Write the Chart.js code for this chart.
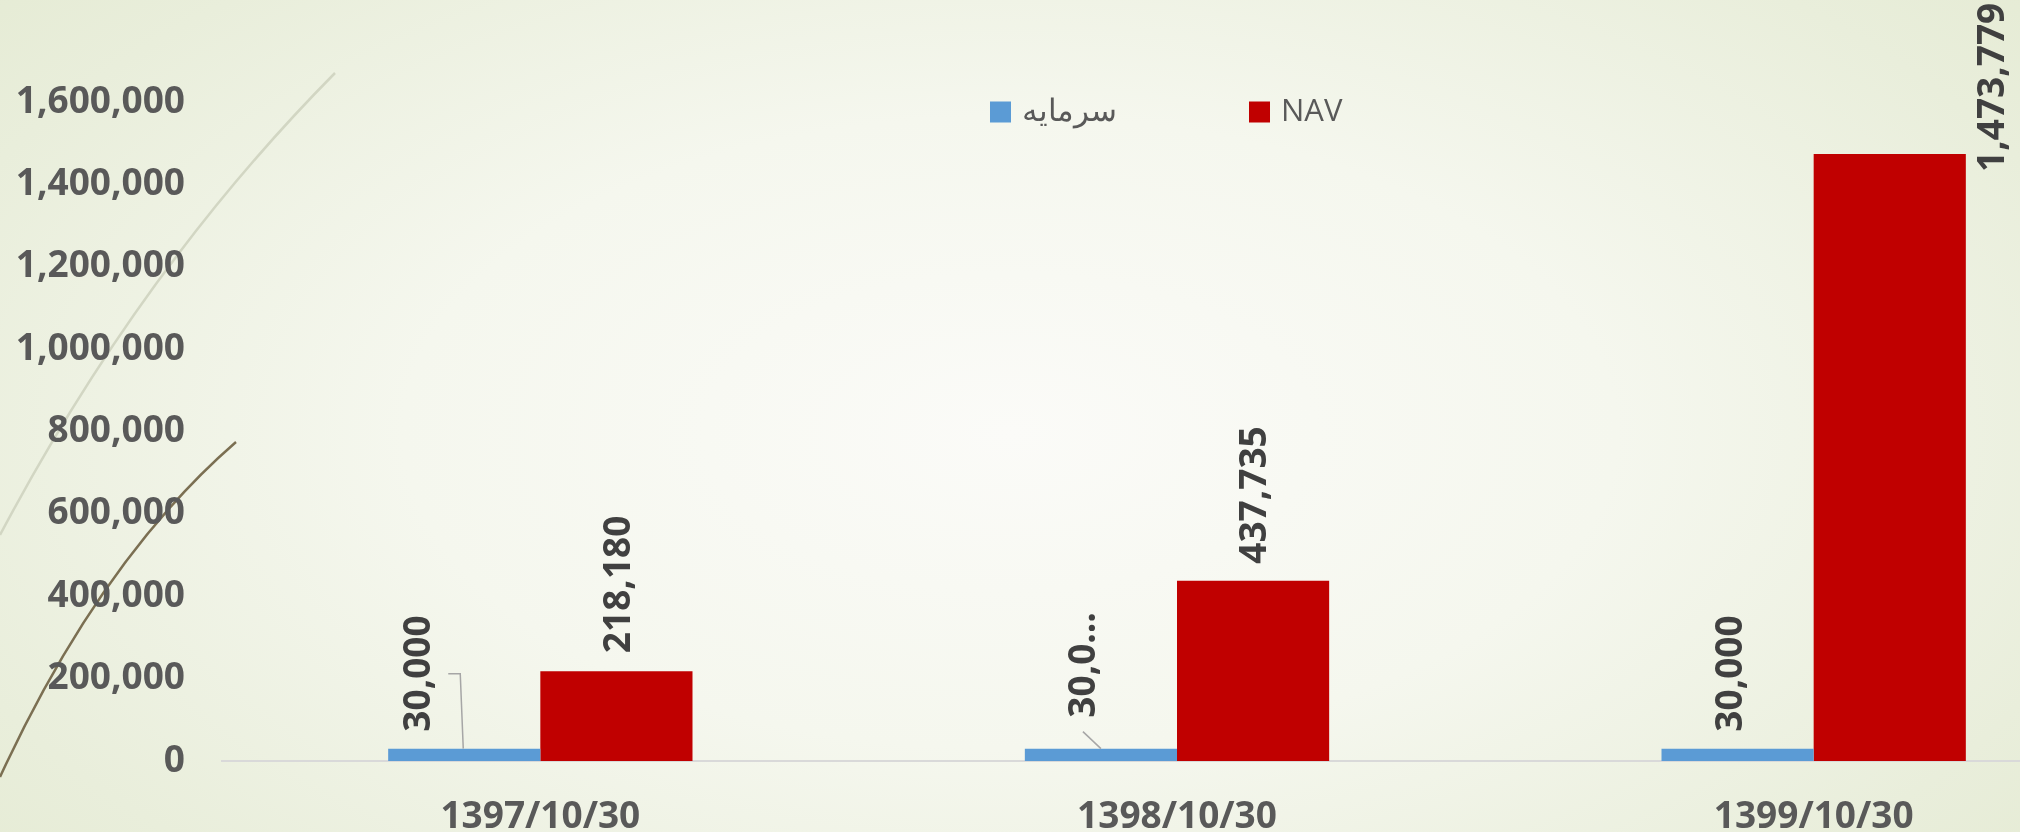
<!DOCTYPE html>
<html>
<head>
<meta charset="utf-8">
<script src="https://cdn.jsdelivr.net/npm/chart.js@4.4.1/dist/chart.umd.min.js"></script>
<style>
    html, body {
        margin: 0;
        width: 2020px;
        height: 832px;
        overflow: hidden;
    }
    body {
        position: relative;
        background: radial-gradient(ellipse 75% 95% at 50% 52%, #fbfbf8 0%, #f5f7ee 40%, #e9eedb 75%, #e2e9cf 100%);
        font-family: "Open Sans", sans-serif;
    }
    #deco {
        position: absolute;
        left: 0;
        top: 0;
    }
    #wrap {
        position: absolute;
        left: 0;
        top: 0;
        width: 2140px;
        height: 832px;
    }
</style>
</head>
<body>
<svg id="deco" width="400" height="832">
    <path d="M335,73 Q140,270 0,535" stroke="#d2d6c3" stroke-width="2.5" fill="none"/>
    <path d="M236,442 Q100,560 0,777" stroke="#7b6f52" stroke-width="2.5" fill="none"/>
</svg>
<div id="wrap">
    <canvas id="fundChart" width="2140" height="832"></canvas>
</div>
<script>
// chart data
const categories = ['1397/10/30', '1398/10/30', '1399/10/30'];
const seriesNames = ['سرمایه', 'NAV'];
const capitalValues = [30000, 30000, 30000];
const navValues = [218180, 437735, 1473779];
const yTicks = [0, 200000, 400000, 600000, 800000, 1000000, 1200000, 1400000, 1600000];
// text shown on the capital labels (second one is cut off in the original)
const capitalLabelText = ['30,000', '30,0…', '30,000'];

const colors = ['#5b9bd5', '#c00000'];
const textGray = '#595959';

// label placement relative to the top of each bar
const labelPlacement = [
    [
        { dx: -45, gap: 17, leader: [[-16, -75], [-4, -75], [-1, 0]] },
        { dx: -16, gap: 31, leader: [[-18, -17], [0, 0]] },
        { dx: -6, gap: 17 }
    ],
    [
        { dx: 3, gap: 18 },
        { dx: 2, gap: 17 },
        { dx: 104, gap: -18 }
    ]
];

function fmt(v) {
    return v.toLocaleString('en-US');
}

// Draw rotated value labels above bars
const barLabels = {
    id: 'barLabels',
    afterDatasetsDraw(chart) {
        const ctx = chart.ctx;
        chart.data.datasets.forEach((ds, i) => {
            const meta = chart.getDatasetMeta(i);
            meta.data.forEach((bar, j) => {
                const p = labelPlacement[i][j];
                const text = i === 0 ? capitalLabelText[j] : fmt(ds.data[j]);
                if (p.leader) {
                    ctx.save();
                    ctx.strokeStyle = '#a6a6a6';
                    ctx.lineWidth = 1.5;
                    ctx.beginPath();
                    p.leader.forEach((pt, k) => {
                        const px = bar.x + pt[0], py = bar.y + pt[1];
                        if (k === 0) ctx.moveTo(px, py); else ctx.lineTo(px, py);
                    });
                    ctx.stroke();
                    ctx.restore();
                }
                ctx.save();
                ctx.translate(bar.x + p.dx, bar.y - p.gap);
                ctx.rotate(-Math.PI / 2);
                ctx.font = 'bold 37px "Open Sans"';
                ctx.fillStyle = '#404040';
                ctx.textAlign = 'left';
                ctx.textBaseline = 'middle';
                ctx.fillText(text, 0, 0);
                ctx.restore();
            });
        });
    }
};

// Legend drawn inside the plot, like the office chart
const overlayLegend = {
    id: 'overlayLegend',
    afterDraw(chart) {
        const ctx = chart.ctx;
        const area = chart.chartArea;
        const box = 21, boxGap = 11, itemStep = 259;
        ctx.save();
        ctx.font = '31px "Open Sans"';
        let x = area.left + 768;
        const y = 112;
        chart.data.datasets.forEach((ds) => {
            ctx.fillStyle = ds.backgroundColor;
            ctx.fillRect(x, y - box / 2, box, box);
            ctx.fillStyle = textGray;
            ctx.textAlign = 'left';
            ctx.textBaseline = 'middle';
            ctx.fillText(ds.label, x + box + boxGap, y);
            x += itemStep;
        });
        ctx.restore();
    }
};

new Chart(document.getElementById('fundChart'), {
    type: 'bar',
    data: {
        labels: categories,
        datasets: [
            { label: seriesNames[0], data: capitalValues, backgroundColor: colors[0] },
            { label: seriesNames[1], data: navValues, backgroundColor: colors[1] }
        ]
    },
    options: {
        responsive: false,
        devicePixelRatio: 1,
        animation: false,
        categoryPercentage: 0.478,
        barPercentage: 1.0,
        layout: { padding: { top: 102, right: 8, left: 0, bottom: 0 } },
        plugins: {
            legend: { display: false },
            tooltip: { enabled: false }
        },
        scales: {
            x: {
                grid: { display: false },
                border: { display: true, color: '#d9d9d9', width: 2 },
                ticks: {
                    color: textGray,
                    font: { family: 'Open Sans', size: 37, weight: 'bold' },
                    padding: 26
                },
                afterFit(scale) { scale.height = 71; }
            },
            y: {
                min: yTicks[0],
                max: yTicks[yTicks.length - 1],
                grid: { display: false },
                border: { display: false },
                ticks: {
                    stepSize: yTicks[1] - yTicks[0],
                    color: textGray,
                    font: { family: 'Open Sans', size: 37, weight: 'bold' },
                    padding: 29,
                    callback: v => fmt(v)
                },
                afterFit(scale) { scale.width = 222; }
            }
        }
    },
    plugins: [barLabels, overlayLegend]
});
</script>
</body>
</html>
